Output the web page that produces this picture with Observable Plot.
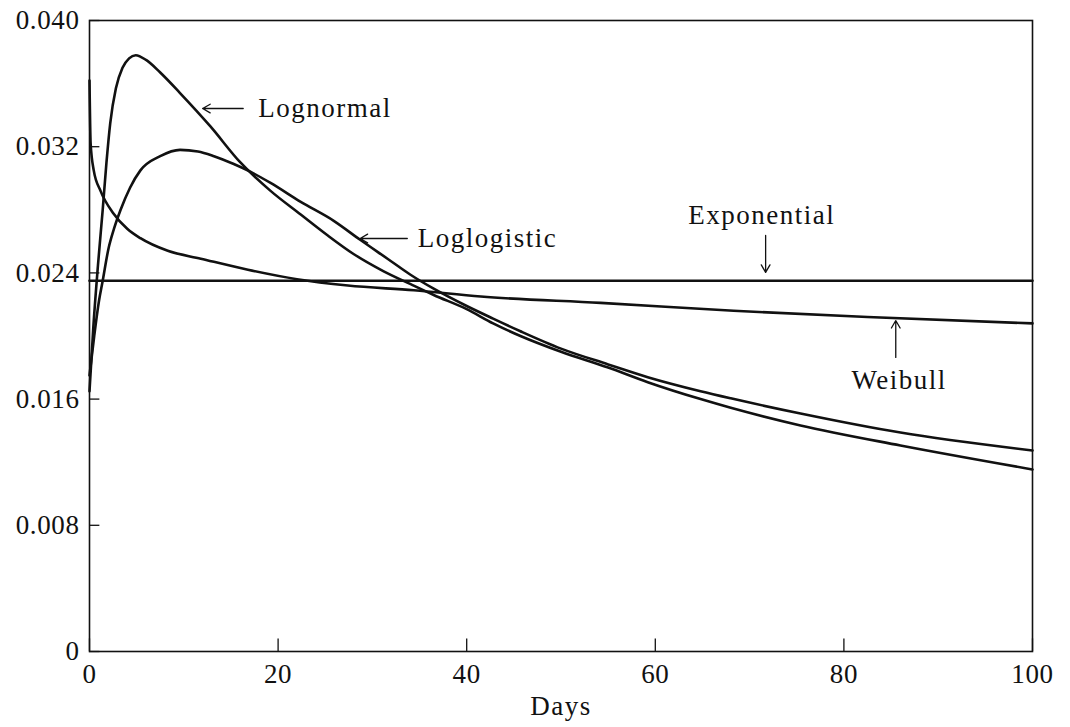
<!DOCTYPE html>
<html>
<head>
<meta charset="utf-8">
<script src="https://cdn.jsdelivr.net/npm/d3@7"></script>
<script src="https://cdn.jsdelivr.net/npm/@observablehq/plot@0.6"></script>
<style>
  html, body { margin: 0; padding: 0; background: #fff; }
  #chart { width: 1070px; height: 727px; }
  #chart svg g[aria-label="text"] text { letter-spacing: 1.5px; }
</style>
</head>
<body>
<div id="chart"></div>
<script>
// ---- Data ----
const xTicks = [0, 20, 40, 60, 80, 100];
const yTicks = [0, 0.008, 0.016, 0.024, 0.032, 0.040];

const lognormalDays = [0, 0.4, 0.9, 1.4, 1.8, 2.2, 2.8, 3.5, 4.2, 4.9, 6.0, 7.5, 9.6, 12.8, 16, 19.2, 22.4, 25.2, 28, 31.2, 34, 36.5, 40, 42.8, 45.7, 50, 55, 59.2, 64.8, 68, 75.4, 86, 100];
const lognormalHazard = [0.0165, 0.0205, 0.0245, 0.0280, 0.0310, 0.0335, 0.0357, 0.0370, 0.0376, 0.0378, 0.0375, 0.0367, 0.0354, 0.0333, 0.0310, 0.0292, 0.0277, 0.0264, 0.0252, 0.0241, 0.0233, 0.0226, 0.0217, 0.0208, 0.0200, 0.0190, 0.0180, 0.01707, 0.01600, 0.01545, 0.01433, 0.01306, 0.01154];

const loglogisticDays = [0, 0.5, 1.0, 1.4, 2.0, 2.6, 3.3, 4.3, 5.4, 7.5, 9.6, 11.5, 13.2, 15.3, 17.1, 19.2, 22.4, 25.9, 28.7, 31.6, 34, 36.5, 40, 42.8, 45.7, 50, 55, 59.2, 64.8, 68, 75.4, 86, 100];
const loglogisticHazard = [0.0175, 0.0200, 0.0222, 0.0235, 0.0255, 0.0268, 0.0280, 0.0294, 0.0305, 0.0314, 0.0318, 0.0317, 0.0314, 0.0309, 0.0304, 0.0297, 0.0285, 0.0273, 0.0261, 0.0249, 0.0239, 0.0230, 0.0219, 0.0211, 0.0203, 0.0192, 0.0182, 0.01739, 0.01650, 0.01605, 0.01509, 0.01388, 0.01274];

const weibullDays = [0, 0.12, 0.45, 1.17, 2.5, 4, 5.4, 8.3, 11.8, 16.8, 22, 27.4, 34.4, 41.5, 54.2, 68.3, 82.5, 100];
const weibullHazard = [0.0362, 0.0322, 0.0305, 0.0292, 0.0278, 0.0268, 0.0262, 0.0254, 0.0249, 0.0242, 0.0236, 0.0232, 0.0229, 0.0225, 0.0221, 0.0216, 0.0212, 0.0208];

const exponentialDays = [0, 100];
const exponentialHazard = [0.0235, 0.0235];

// annotation labels and arrows (data coordinates)
const labelNames = ["Lognormal", "Loglogistic", "Exponential", "Weibull"];
const labelX = [17.9, 34.8, 63.5, 80.8];
const labelY = [0.03442, 0.02618, 0.02764, 0.01718];
const arrowX1 = [16.3, 33.7, 71.7, 85.5];
const arrowY1 = [0.03442, 0.02618, 0.02637, 0.01864];
const arrowX2 = [12.0, 28.7, 71.7, 85.5];
const arrowY2 = [0.03442, 0.02618, 0.02403, 0.02098];

// ---- Build tables ----
const series = [
  ["Lognormal", lognormalDays, lognormalHazard],
  ["Loglogistic", loglogisticDays, loglogisticHazard],
  ["Weibull", weibullDays, weibullHazard],
  ["Exponential", exponentialDays, exponentialHazard]
];
const table = series.flatMap(([model, xs, ys]) => xs.map((d, i) => ({model, day: d, hazard: ys[i]})));
const labels = labelNames.map((name, i) => ({name, x: labelX[i], y: labelY[i]}));
const arrows = labelNames.map((name, i) => ({x1: arrowX1[i], y1: arrowY1[i], x2: arrowX2[i], y2: arrowY2[i]}));

const yTickLen = 1.1;     // inward tick length (days)
const xTickLen = 0.0008;  // inward tick length (hazard units)

const chart = Plot.plot({
  width: 1070,
  height: 727,
  marginLeft: 89,
  marginRight: 38,
  marginTop: 20,
  marginBottom: 76,
  style: {fontFamily: "'Liberation Serif', 'Times New Roman', serif", fontSize: "27px", letterSpacing: "0.6px", color: "#111", background: "#fff"},
  x: {domain: [0, 100]},
  y: {domain: [0, 0.040]},
  marks: [
    Plot.frame({stroke: "#111", strokeWidth: 1.6}),
    Plot.ruleY(yTicks, {x1: 0, x2: yTickLen, stroke: "#111", strokeWidth: 1.3}),
    Plot.ruleX(xTicks, {y1: 0, y2: xTickLen, stroke: "#111", strokeWidth: 1.3}),
    Plot.axisY(yTicks, {tickSize: 0, tickPadding: 10, label: null, tickFormat: d => d === 0 ? "0" : d.toFixed(3)}),
    Plot.axisX(xTicks, {tickSize: 0, tickPadding: 12, label: null, tickFormat: d => String(d)}),
    Plot.text(["Days"], {frameAnchor: "bottom", dy: 55, lineAnchor: "middle", text: d => d}),
    Plot.line(table, {x: "day", y: "hazard", z: "model", stroke: "#111", strokeWidth: 2.6, curve: "monotone-x"}),
    Plot.arrow(arrows, {x1: "x1", y1: "y1", x2: "x2", y2: "y2", stroke: "#111", strokeWidth: 1.3, headLength: 10}),
    Plot.text(labels, {x: "x", y: "y", text: "name", textAnchor: "start", lineAnchor: "middle"})
  ]
});
document.getElementById("chart").appendChild(chart);
</script>
</body>
</html>
